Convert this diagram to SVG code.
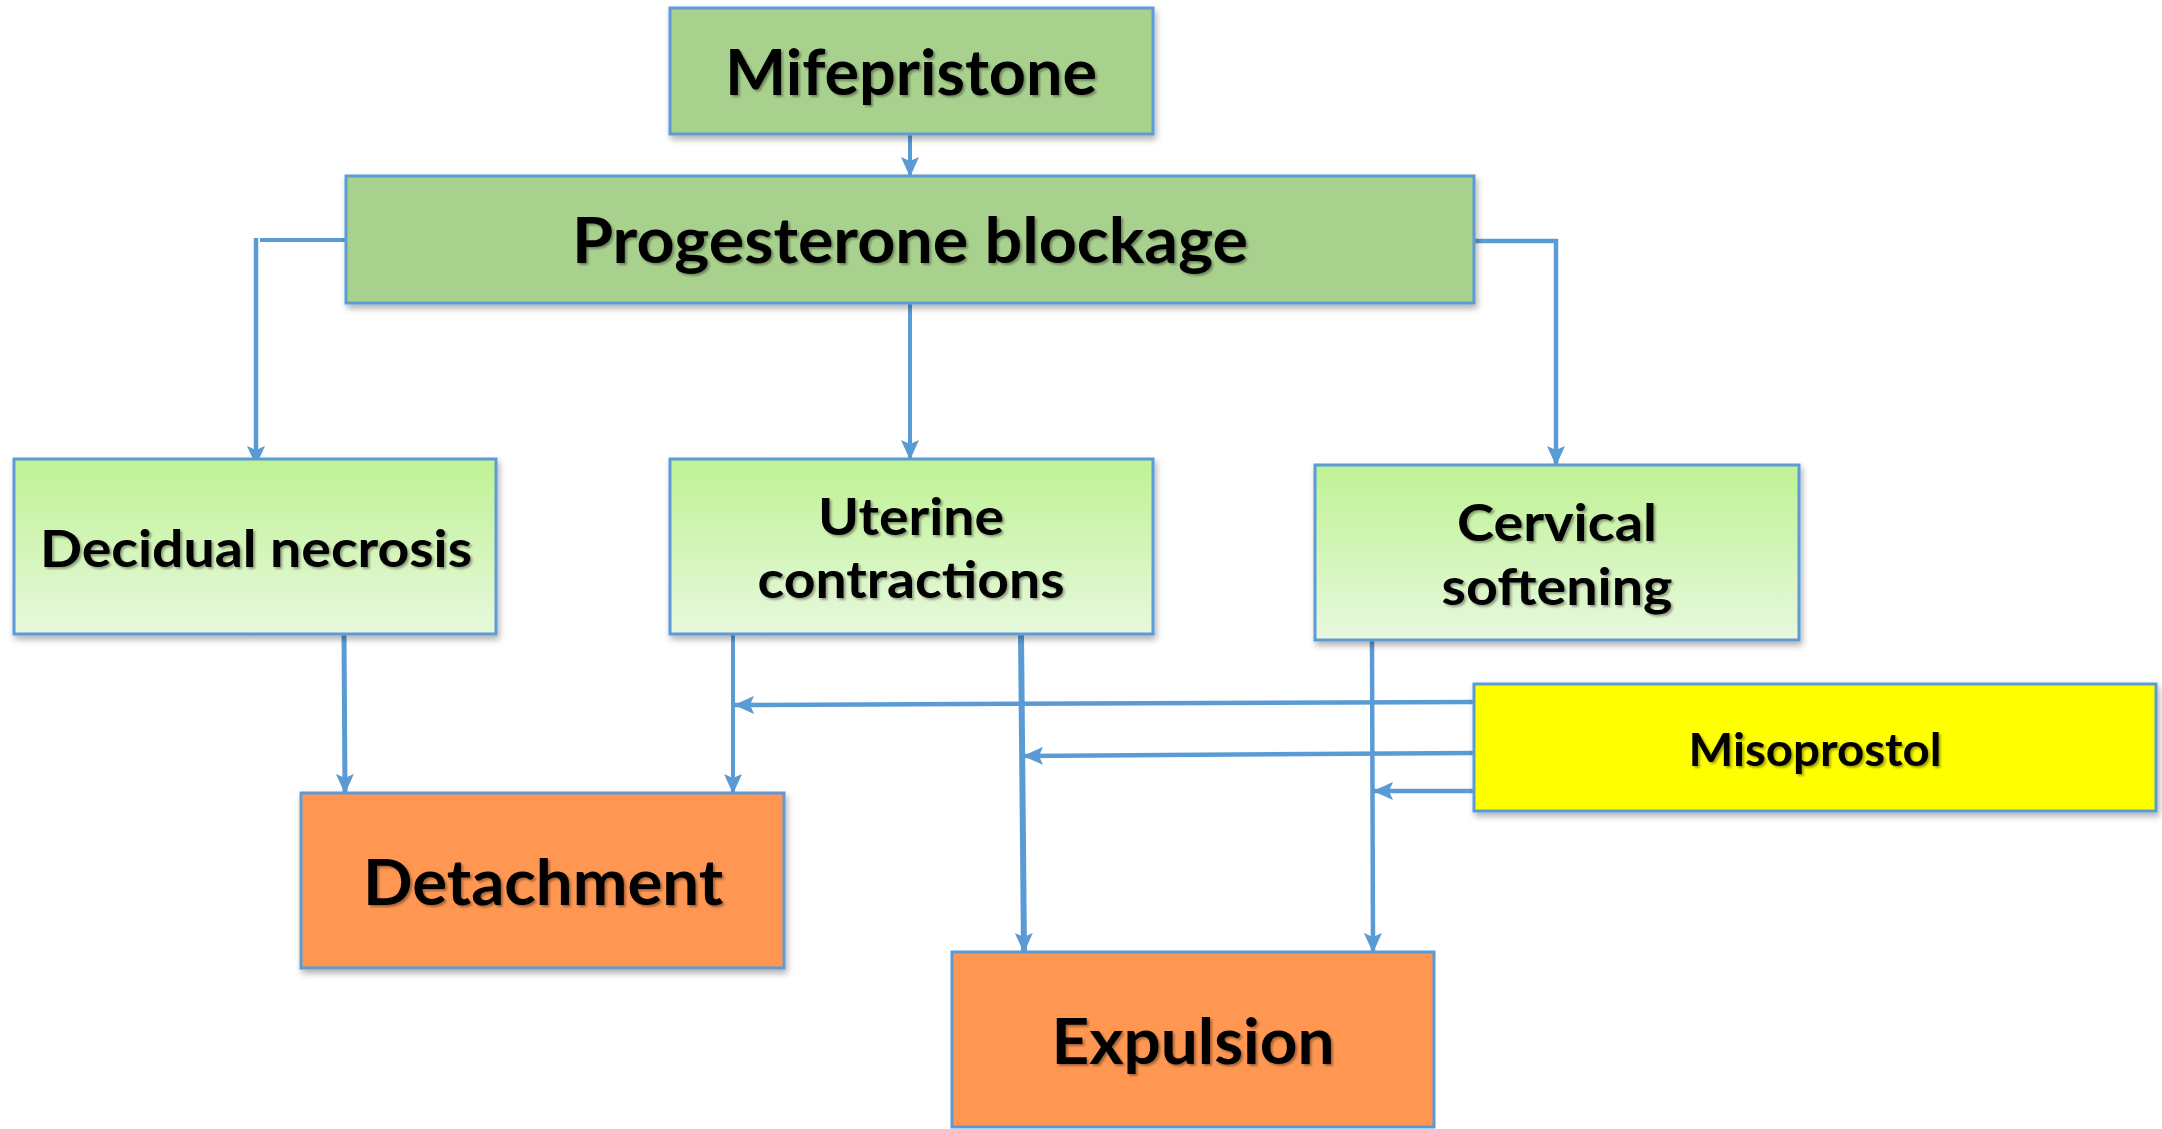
<svg xmlns="http://www.w3.org/2000/svg" width="2162" height="1129" viewBox="0 0 2162 1129">
<style>
.box{stroke:#5B9BD5;stroke-width:3}
.dk{fill:#A9D18E}
.lt{fill:url(#lg)}
.or{fill:#FF9752}
.ye{fill:#FFFF00}
.t{font-family:Lato,"Open Sans","Liberation Sans",sans-serif;font-weight:bold;fill:#000;text-anchor:middle;filter:url(#ts)}
.c{stroke:#5B9BD5;fill:none}
</style>
<defs>
<linearGradient id="lg" x1="0" y1="0" x2="0" y2="1">
<stop offset="0" stop-color="#BFF294"/>
<stop offset="1" stop-color="#E7F8DD"/>
</linearGradient>
<filter id="bs" x="-5%" y="-5%" width="112%" height="120%">
<feDropShadow dx="2" dy="4" stdDeviation="3" flood-color="#000" flood-opacity="0.3"/>
</filter>
<filter id="ts" x="-5%" y="-10%" width="110%" height="130%">
<feDropShadow dx="2" dy="2" stdDeviation="1.2" flood-color="#000" flood-opacity="0.35"/>
</filter>
<marker id="ah" markerUnits="userSpaceOnUse" markerWidth="20" markerHeight="18" viewBox="0 0 20 18" refX="19" refY="9" orient="auto">
<path d="M0,0 L20,9 L0,18 L4,9 Z" fill="#5B9BD5"/>
</marker>
</defs>

<g id="connectors">
<line class="c" stroke-width="4" x1="910" y1="134" x2="910" y2="176" marker-end="url(#ah)"/>
<polyline class="c" stroke-width="4" points="346,240 260,240"/>
<line class="c" stroke-width="4.5" x1="256" y1="238" x2="256" y2="465" marker-end="url(#ah)"/>
<line class="c" stroke-width="4" x1="910" y1="303" x2="910" y2="459" marker-end="url(#ah)"/>
<polyline class="c" stroke-width="4.5" points="1474,241 1556,241 1556,465" marker-end="url(#ah)"/>
<line class="c" stroke-width="5" x1="344" y1="634" x2="345" y2="793" marker-end="url(#ah)"/>
<line class="c" stroke-width="4" x1="733" y1="634" x2="733" y2="793" marker-end="url(#ah)"/>
<line class="c" stroke-width="6" x1="1021" y1="634" x2="1024" y2="952" marker-end="url(#ah)"/>
<line class="c" stroke-width="4.5" x1="1372" y1="640" x2="1373" y2="952" marker-end="url(#ah)"/>
<line class="c" stroke-width="4.5" x1="1474" y1="702" x2="735" y2="705" marker-end="url(#ah)"/>
<line class="c" stroke-width="4.5" x1="1474" y1="753" x2="1024" y2="756" marker-end="url(#ah)"/>
<line class="c" stroke-width="4.5" x1="1474" y1="791" x2="1374" y2="791" marker-end="url(#ah)"/>
</g>

<g id="mifepristone">
<rect class="box dk" x="670" y="8" width="483" height="126" filter="url(#bs)"/>
<text class="t" x="911" y="95" font-size="64" textLength="372" lengthAdjust="spacingAndGlyphs">Mifepristone</text>
</g>

<g id="progesterone">
<rect class="box dk" x="346" y="176" width="1128" height="127" filter="url(#bs)"/>
<text class="t" x="910" y="263" font-size="64" textLength="676" lengthAdjust="spacingAndGlyphs">Progesterone blockage</text>
</g>

<g id="decidual">
<rect class="box lt" x="14" y="459" width="482" height="175" filter="url(#bs)"/>
<text class="t" x="256" y="567" font-size="52" textLength="432" lengthAdjust="spacingAndGlyphs">Decidual necrosis</text>
</g>

<g id="uterine">
<rect class="box lt" x="670" y="459" width="483" height="175" filter="url(#bs)"/>
<text class="t" x="911" y="535" font-size="52" textLength="186" lengthAdjust="spacingAndGlyphs">Uterine</text>
<text class="t" x="911" y="598" font-size="52" textLength="307" lengthAdjust="spacingAndGlyphs">contractions</text>
</g>

<g id="cervical">
<rect class="box lt" x="1315" y="465" width="484" height="175" filter="url(#bs)"/>
<text class="t" x="1557" y="541" font-size="52" textLength="200" lengthAdjust="spacingAndGlyphs">Cervical</text>
<text class="t" x="1557" y="605" font-size="52" textLength="231" lengthAdjust="spacingAndGlyphs">softening</text>
</g>

<g id="misoprostol">
<rect class="box ye" x="1474" y="684" width="682" height="127" filter="url(#bs)"/>
<text class="t" x="1815" y="766" font-size="46" textLength="253" lengthAdjust="spacingAndGlyphs">Misoprostol</text>
</g>

<g id="detachment">
<rect class="box or" x="301" y="793" width="483" height="175" filter="url(#bs)"/>
<text class="t" x="543" y="905" font-size="64" textLength="360" lengthAdjust="spacingAndGlyphs">Detachment</text>
</g>

<g id="expulsion">
<rect class="box or" x="952" y="952" width="482" height="175"/>
<text class="t" x="1193" y="1064" font-size="64" textLength="283" lengthAdjust="spacingAndGlyphs">Expulsion</text>
</g>
</svg>
